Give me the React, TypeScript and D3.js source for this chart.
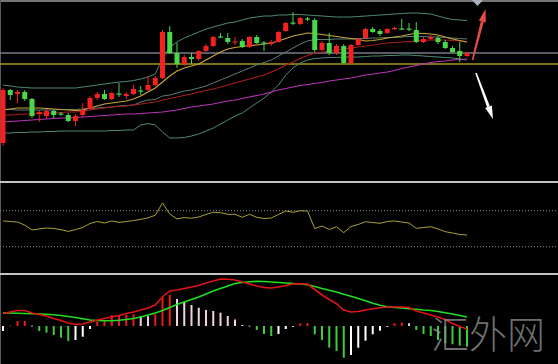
import React from "react";
import * as d3 from "d3";

// candles (red = up, green = down)
const opens = [1.1857, 1.1910, 1.1906, 1.1908, 1.1901, 1.1886, 1.1884, 1.1889, 1.18865, 1.1885, 1.1879, 1.1885, 1.1891, 1.1902, 1.1906, 1.1901, 1.19065, 1.1904, 1.1906, 1.19095, 1.1910, 1.1915, 1.1922, 1.1968, 1.1947, 1.1936, 1.1943, 1.1941, 1.1949, 1.1954, 1.19635, 1.1962, 1.19575, 1.1959, 1.1953, 1.1963, 1.19575, 1.1956, 1.1958, 1.1969, 1.19775, 1.1976, 1.19815, 1.1980, 1.1950, 1.1957, 1.1947, 1.1954, 1.1937, 1.1955, 1.1962, 1.1971, 1.1969, 1.1967, 1.1971, 1.19715, 1.19715, 1.1970, 1.1958, 1.1961, 1.1962, 1.1958, 1.1952, 1.1949, 1.1944];
const highs = [1.1912, 1.1911, 1.1910, 1.1910, 1.1902, 1.1890, 1.1891, 1.1890, 1.1888, 1.1887, 1.1886, 1.1897, 1.1904, 1.1908, 1.1910, 1.1908, 1.1917, 1.1908, 1.1915, 1.1914, 1.1924, 1.1924, 1.1970, 1.1974, 1.1957, 1.1945, 1.1947, 1.1950, 1.1956, 1.1964, 1.1967, 1.1967, 1.1963, 1.1961, 1.1964, 1.1965, 1.1959, 1.1960, 1.1969, 1.1978, 1.1988, 1.1983, 1.1983, 1.1982, 1.1959, 1.1967, 1.1956, 1.1956, 1.1956, 1.1962, 1.1972, 1.1973, 1.1971, 1.1972, 1.1973, 1.1981, 1.1977, 1.1978, 1.1963, 1.1965, 1.1964, 1.1960, 1.1954, 1.1958, 1.1948];
const lows = [1.1854, 1.1900, 1.1897, 1.1899, 1.1882, 1.1878, 1.1881, 1.1882, 1.1884, 1.1878, 1.1874, 1.1883, 1.1890, 1.1900, 1.1900, 1.1900, 1.1903, 1.1901, 1.1905, 1.1905, 1.1909, 1.1914, 1.1921, 1.1946, 1.1932, 1.1934, 1.1936, 1.1939, 1.1948, 1.1953, 1.1962, 1.1956, 1.1955, 1.1952, 1.1952, 1.1956, 1.1949, 1.1954, 1.1957, 1.1968, 1.1975, 1.1975, 1.1979, 1.1948, 1.1949, 1.1945, 1.1945, 1.1936, 1.1936, 1.1954, 1.1961, 1.1967, 1.1964, 1.1966, 1.1970, 1.1970, 1.1969, 1.1957, 1.1957, 1.1960, 1.1956, 1.1951, 1.1947, 1.1938, 1.1943];
const closes = [1.1910, 1.1905, 1.1908, 1.1901, 1.1884, 1.1888, 1.1889, 1.1885, 1.18855, 1.1879, 1.1884, 1.1890, 1.1902, 1.1906, 1.1901, 1.1907, 1.19055, 1.1906, 1.1911, 1.19085, 1.1915, 1.1922, 1.1968, 1.1947, 1.1936, 1.1943, 1.1941, 1.1949, 1.1954, 1.1963, 1.19625, 1.1958, 1.19585, 1.1953, 1.1963, 1.1957, 1.19565, 1.1958, 1.1968, 1.1977, 1.19765, 1.1982, 1.19805, 1.1950, 1.1957, 1.1947, 1.1954, 1.1937, 1.1955, 1.1961, 1.1971, 1.1968, 1.1966, 1.1971, 1.1972, 1.19705, 1.19705, 1.1958, 1.1961, 1.1963, 1.1958, 1.1952, 1.1948, 1.1944, 1.1947];

// bollinger bands
const bbUpper = [1.1915, 1.1914, 1.1913, 1.19125, 1.1912, 1.1912, 1.1912, 1.1912, 1.1912, 1.1912, 1.1912, 1.1913, 1.1914, 1.1915, 1.1916, 1.1917, 1.1918, 1.19185, 1.19195, 1.1921, 1.1923, 1.1926, 1.1942, 1.1953, 1.1958, 1.1962, 1.1965, 1.1968, 1.1971, 1.1973, 1.1975, 1.1977, 1.1978, 1.1980, 1.1982, 1.1983, 1.1984, 1.1984, 1.1985, 1.1985, 1.19855, 1.19855, 1.1985, 1.19845, 1.1984, 1.19835, 1.1983, 1.1983, 1.1983, 1.19835, 1.1984, 1.19845, 1.1985, 1.19855, 1.1986, 1.19865, 1.1987, 1.1987, 1.19865, 1.1986, 1.1984, 1.1982, 1.19805, 1.1980, 1.19795];
const bbMid = [1.1891, 1.18905, 1.1890, 1.1890, 1.1890, 1.1890, 1.1890, 1.1890, 1.18905, 1.18905, 1.18905, 1.1891, 1.18915, 1.1892, 1.18925, 1.1893, 1.1894, 1.18945, 1.1895, 1.1898, 1.1900, 1.19005, 1.1904, 1.1905, 1.1907, 1.1909, 1.1910, 1.1912, 1.1914, 1.1917, 1.1920, 1.1923, 1.1926, 1.1929, 1.1932, 1.1935, 1.19375, 1.1940, 1.1944, 1.1948, 1.1952, 1.1956, 1.1959, 1.19605, 1.19605, 1.19605, 1.1961, 1.1961, 1.1961, 1.19615, 1.19615, 1.1962, 1.1962, 1.19625, 1.19625, 1.1963, 1.19635, 1.19635, 1.19635, 1.1963, 1.1963, 1.19625, 1.1962, 1.19615, 1.1961];
const bbLower = [1.1867, 1.1867, 1.18675, 1.18675, 1.1868, 1.1868, 1.18685, 1.18685, 1.1869, 1.1869, 1.1869, 1.1869, 1.1869, 1.1869, 1.1869, 1.18695, 1.18695, 1.1870, 1.1870, 1.1875, 1.18765, 1.1875, 1.1868, 1.1862, 1.1862, 1.18625, 1.1864, 1.1866, 1.1869, 1.1872, 1.1876, 1.1880, 1.1884, 1.1887, 1.1892, 1.1897, 1.1902, 1.1908, 1.1915, 1.1925, 1.1932, 1.1937, 1.1940, 1.19415, 1.1942, 1.19425, 1.19425, 1.1943, 1.1943, 1.1943, 1.19435, 1.1944, 1.1944, 1.19445, 1.19445, 1.1945, 1.1945, 1.19445, 1.1944, 1.19435, 1.1943, 1.19425, 1.1942, 1.1941, 1.1940];

// moving averages
const maFast = [1.1890, 1.1891, 1.1892, 1.1892, 1.1892, 1.1892, 1.18915, 1.1891, 1.18905, 1.1890, 1.18895, 1.1890, 1.1892, 1.1894, 1.1896, 1.1897, 1.1898, 1.1899, 1.1901, 1.1904, 1.1908, 1.1912, 1.1918, 1.1924, 1.1929, 1.1932, 1.1934, 1.1936, 1.1940, 1.1944, 1.1948, 1.1951, 1.19525, 1.19535, 1.19545, 1.1955, 1.1956, 1.1957, 1.1959, 1.19615, 1.1964, 1.19655, 1.1967, 1.19665, 1.19655, 1.19645, 1.19635, 1.19625, 1.19615, 1.19605, 1.1959, 1.19595, 1.19605, 1.1962, 1.1963, 1.1964, 1.19655, 1.1967, 1.19665, 1.1966, 1.1965, 1.1963, 1.1961, 1.19595, 1.1958];
const maMid = [1.1885, 1.1885, 1.18855, 1.1886, 1.1886, 1.18865, 1.1887, 1.1887, 1.18875, 1.1888, 1.1888, 1.1889, 1.1890, 1.1891, 1.1892, 1.1893, 1.18935, 1.1894, 1.1895, 1.1896, 1.1897, 1.1898, 1.1900, 1.19015, 1.1903, 1.19045, 1.1906, 1.1908, 1.19095, 1.1911, 1.1913, 1.1915, 1.1917, 1.1919, 1.1921, 1.1923, 1.1925, 1.1928, 1.1931, 1.1935, 1.1938, 1.19415, 1.19445, 1.1947, 1.1948, 1.1949, 1.1950, 1.1951, 1.1952, 1.1953, 1.1954, 1.1955, 1.1956, 1.1957, 1.19575, 1.1958, 1.19585, 1.1959, 1.19595, 1.1960, 1.1960, 1.1960, 1.19595, 1.1959, 1.1958];
const maSlow = [1.1878, 1.18785, 1.1879, 1.18795, 1.1880, 1.18805, 1.1881, 1.18815, 1.1882, 1.1882, 1.18825, 1.1883, 1.18835, 1.1884, 1.18845, 1.1885, 1.18855, 1.1886, 1.1886, 1.18865, 1.1887, 1.18875, 1.1888, 1.1889, 1.1890, 1.18915, 1.1893, 1.1894, 1.1895, 1.1896, 1.18975, 1.1899, 1.1900, 1.19015, 1.1903, 1.19045, 1.1906, 1.1908, 1.1910, 1.19115, 1.1913, 1.19145, 1.19155, 1.19165, 1.19175, 1.1919, 1.1920, 1.1921, 1.1922, 1.19235, 1.1925, 1.1926, 1.1927, 1.1928, 1.19295, 1.19315, 1.1933, 1.19345, 1.1936, 1.19375, 1.19385, 1.1939, 1.1940, 1.19405, 1.1941];

// horizontal price levels
const levels = [1.1947, 1.1936];

// RSI panel
const rsi = [58.6, 58, 57.4, 54, 48.6, 49.7, 50.8, 50.2, 49, 47, 49, 51.3, 55.8, 58, 56.3, 58.6, 57, 58, 59, 60.4, 62, 65, 78.6, 66.3, 60.8, 62.4, 61.6, 63, 65.8, 68.2, 67.8, 66, 66, 62.7, 66, 62.7, 61.3, 61.9, 65.8, 69.7, 68.2, 70, 69.7, 50.2, 53, 49.1, 52.1, 45.6, 52.4, 54.7, 57.8, 56.9, 56, 58, 58.6, 57.4, 56.3, 50.4, 51.3, 52.2, 49.7, 46.7, 45.2, 43.6, 43];
const rsiLevels = [70, 30];

// MACD panel
const dif = [12.5, 14, 15.5, 15.5, 13, 11.5, 10, 7.5, 5.5, 3, 1.5, 2, 4, 6, 7.5, 9, 10.5, 12.5, 14, 16, 18, 21, 29, 35, 36, 37.5, 39, 40.5, 43, 45, 47, 46.7, 46, 44, 42, 40, 38.5, 38, 39, 40.5, 42, 42.3, 42, 36.5, 31, 26.5, 22.3, 16, 14, 14.5, 16, 17.3, 18.3, 19, 19, 19, 18.5, 15, 13, 11, 9, 6.5, 2.5, -0.5, -3];
const dea = [13.3, 13, 12.7, 12.5, 12.2, 12, 11.7, 11.3, 10.5, 9.5, 8.5, 7.3, 6, 5.5, 5.3, 5.3, 5.7, 6.5, 7.5, 9, 11, 13, 15.5, 18.5, 21.5, 24, 26.5, 29, 32, 35, 37.5, 40, 42.5, 43.5, 44.2, 44.7, 44.5, 44, 43.5, 43, 42.5, 42, 41.3, 39.5, 37.5, 35.7, 34, 31.8, 29.8, 27.5, 25.2, 22.7, 20.7, 19.3, 18.5, 18, 17.3, 16.7, 16, 15.5, 14.5, 13.2, 12, 10.5, 9];
const hist = [-5, 0.5, 5, 5.2, 0.4, -5, -6.7, -9, -11.7, -15, -14, -10.7, -3, 4.3, 6, 11, 11.1, 11.2, 11.7, 10, 9.8, 11.7, 29.3, 31, 27, 24.3, 21, 18.3, 16, 15, 13.3, 10, 6.5, 1, 0.3, -4, -8, -10, -8, -3, -0.7, 2.7, 2.9, -8.3, -14, -21.7, -25, -31.7, -29, -21.7, -14.7, -8.3, -4.7, -0.5, 2.7, 3.3, 2.7, -4, -8, -10, -14, -17.3, -18.3, -19.7, -20.7];

const W = 558;
const H = 364;
const UP = "#f52020";
const DOWN = "#4ad84a";

function histColor(i: number) {
  const v = hist[i];
  const prev = i > 0 ? hist[i - 1] : -Infinity;
  if (v >= 0) return v >= prev ? "#ea1a1a" : "#f2d2e2";
  return v < prev ? "#3ccc3c" : "#ffffff";
}

// arrow drawn as shaft + triangular head
function Arrow({ x1, y1, x2, y2, color, w }: { x1: number; y1: number; x2: number; y2: number; color: string; w: number }) {
  const len = Math.hypot(x2 - x1, y2 - y1);
  const ux = (x2 - x1) / len;
  const uy = (y2 - y1) / len;
  const px = -uy;
  const py = ux;
  const hl = 13;
  const hw = 3.6;
  const bx = x2 - ux * hl;
  const by = y2 - uy * hl;
  const head = `${x2},${y2} ${bx + px * hw},${by + py * hw} ${bx - px * hw},${by - py * hw}`;
  const shaft = `${x1 + px * 0.8},${y1 + py * 0.8} ${bx + px * w},${by + py * w} ${bx - px * w},${by - py * w} ${x1 - px * 0.8},${y1 - py * 0.8}`;
  return (
    <g fill={color}>
      <polygon points={shaft} />
      <polygon points={head} />
    </g>
  );
}

export default function App() {
  const n = closes.length;
  const idx = closes.map((_, i) => i);
  const x = d3.scaleLinear().domain([0, n - 1]).range([3, 467]);
  const yP = d3.scaleLinear().domain([1.1818, 1.2]).range([182, 0]);
  const yR = d3.scaleLinear().domain([0, 100]).range([273.7, 183.7]);
  const yM = d3.scaleLinear().domain([-38, 52]).range([364, 274]);

  const pLine = d3.line<number>().x((_, i) => x(i)).y((v) => yP(v));
  const rLine = d3.line<number>().x((_, i) => x(i)).y((v) => yR(v));
  const mLine = d3.line<number>().x((_, i) => x(i)).y((v) => yM(v));

  return (
    <>
      <style>{"body{margin:0;background:#000}"}</style>
      <svg width={W} height={H} style={{ display: "block", background: "#000" }}>
        <defs>
          <clipPath id="top">
            <rect x={0} y={2} width={W} height={179} />
          </clipPath>
        </defs>
        <rect width={W} height={H} fill="#000" />

        {/* frame */}
        <line x1={0} x2={W} y1={1} y2={1} stroke="#9c9c9c" strokeWidth={1.5} />
        <line x1={0.5} x2={0.5} y1={0} y2={H} stroke="#5a5a5a" strokeWidth={1} />
        <line x1={0} x2={W} y1={182} y2={182} stroke="#c4c4c4" strokeWidth={2} />
        <line x1={0} x2={W} y1={274} y2={274} stroke="#c4c4c4" strokeWidth={2} />

        {/* price panel */}
        <g clipPath="url(#top)">
          {levels.map((v, i) => (
            <line key={i} x1={0} x2={W} y1={yP(v)} y2={yP(v)} stroke={i === 0 ? "#737a88" : "#a8981e"} strokeWidth={1.3} />
          ))}
          <path d={pLine(bbUpper) ?? ""} fill="none" stroke="#4d8a74" strokeWidth={1} />
          <path d={pLine(bbLower) ?? ""} fill="none" stroke="#4d8a74" strokeWidth={1} />
          <path d={pLine(bbMid) ?? ""} fill="none" stroke="#5f7d74" strokeWidth={1} />
          <path d={pLine(maSlow) ?? ""} fill="none" stroke="#b834b8" strokeWidth={1.2} />
          <path d={pLine(maMid) ?? ""} fill="none" stroke="#a81c1c" strokeWidth={1.2} />
          <path d={pLine(maFast) ?? ""} fill="none" stroke="#c9a436" strokeWidth={1.2} />
          {idx.map((i) => {
            const up = closes[i] >= opens[i];
            const c = up ? UP : DOWN;
            const top = yP(Math.max(opens[i], closes[i]));
            const bot = yP(Math.min(opens[i], closes[i]));
            return (
              <g key={i}>
                <line x1={x(i)} x2={x(i)} y1={yP(highs[i])} y2={yP(lows[i])} stroke={c} strokeWidth={1} />
                <rect x={x(i) - 2.5} y={top} width={5} height={Math.max(1.2, bot - top)} fill={c} />
              </g>
            );
          })}
        </g>

        {/* arrows */}
        <polygon points="472,0 483,0 477.5,6" fill="#a9b0c2" />
        <Arrow x1={472.5} y1={60} x2={485.5} y2={9} color="#e84a4a" w={1.5} />
        <Arrow x1={476} y1={73} x2={493} y2={119} color="#ffffff" w={1.5} />

        {/* RSI panel */}
        {rsiLevels.map((v) => (
          <line key={v} x1={0} x2={W} y1={yR(v)} y2={yR(v)} stroke="#8c8c8c" strokeWidth={1} strokeDasharray="1,2" />
        ))}
        <path d={rLine(rsi) ?? ""} fill="none" stroke="#a9a232" strokeWidth={1} />

        {/* MACD panel */}
        {idx.map((i) => (
          <rect
            key={i}
            x={x(i) - 1}
            y={Math.min(yM(0), yM(hist[i]))}
            width={2}
            height={Math.max(0.8, Math.abs(yM(hist[i]) - yM(0)))}
            fill={histColor(i)}
          />
        ))}
        <path d={mLine(dea) ?? ""} fill="none" stroke="#1ee01e" strokeWidth={1.6} />
        <path d={mLine(dif) ?? ""} fill="none" stroke="#e01414" strokeWidth={1.6} />

        {/* watermark */}
        <text
          x={431}
          y={348}
          fontFamily="'Noto Sans CJK SC', sans-serif"
          fontWeight={300}
          fontSize={38}
          fill="#8e8e8e"
          fillOpacity={0.78}
        >
          汇外网
        </text>
      </svg>
    </>
  );
}
